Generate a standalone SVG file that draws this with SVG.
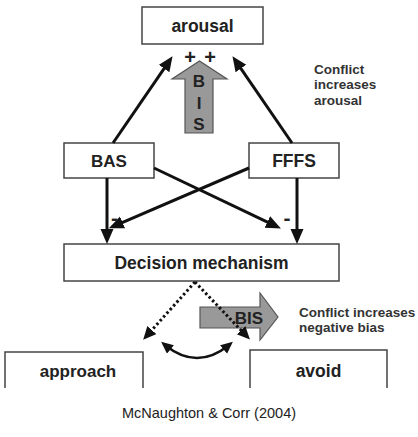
<svg xmlns="http://www.w3.org/2000/svg" width="418" height="437" viewBox="0 0 418 437">
<style>
.box{fill:#fff;stroke:#444;stroke-width:1.5}
.lbl{font-family:"Liberation Sans",Arial,sans-serif;font-weight:bold;fill:#222;text-anchor:middle}
.note{font-family:"Liberation Sans",Arial,sans-serif;font-weight:bold;fill:#333;font-size:13.5px}
.arr{stroke:#111;stroke-width:3;fill:none;marker-end:url(#ah)}
.dot{stroke:#111;stroke-width:3;fill:none;stroke-dasharray:2.5 2.5;marker-end:url(#ah2)}
.big{fill:#999;stroke:#555;stroke-width:1.2}
</style>
<defs>
<marker id="ah" markerUnits="userSpaceOnUse" markerWidth="16" markerHeight="14" refX="10" refY="6.5" orient="auto"><path d="M0,0 L15,6.5 L0,13 z" fill="#111"/></marker>
<marker id="ah2" markerUnits="userSpaceOnUse" markerWidth="16" markerHeight="14" refX="8" refY="6" orient="auto"><path d="M0,0 L13,6 L0,12 z" fill="#111"/></marker>
<marker id="ah3" markerUnits="userSpaceOnUse" markerWidth="16" markerHeight="14" refX="7" refY="5.5" orient="auto-start-reverse"><path d="M0,0 L12,5.5 L0,11 z" fill="#111"/></marker>
</defs>
<rect width="418" height="437" fill="#fff"/>

<g id="arousal"><rect class="box" x="142" y="7" width="121" height="37"/><text class="lbl" x="202.5" y="32" font-size="17.5">arousal</text></g>
<g id="bas"><rect class="box" x="64" y="143" width="90" height="35"/><text class="lbl" x="109" y="167" font-size="17">BAS</text></g>
<g id="fffs"><rect class="box" x="249" y="143" width="90" height="35"/><text class="lbl" x="294" y="167" font-size="17.5">FFFS</text></g>
<g id="decision"><rect class="box" x="64" y="244" width="275" height="37"/><text class="lbl" x="201.5" y="269" font-size="17.5">Decision mechanism</text></g>
<g id="approach"><path class="box" d="M5,388 V352 H143 V388"/><text class="lbl" x="78" y="377" font-size="17">approach</text></g>
<g id="avoid"><path class="box" d="M250,388 V350 H387 V388"/><text class="lbl" x="318.5" y="377" font-size="17.5">avoid</text></g>

<g id="bis-up"><polygon class="big" points="185,133 185,79 172,79 199.5,61 227,79 213,79 213,133"/>
<text class="lbl" x="199" y="87" font-size="17">B</text><text class="lbl" x="199" y="109" font-size="17">I</text><text class="lbl" x="199" y="130" font-size="17">S</text></g>
<g id="bis-right"><polygon class="big" points="200,307 260,307 260,293 278,317 260,340 260,328 200,328"/>
<text class="lbl" x="249" y="324" font-size="17">BIS</text></g>

<g id="connectors">
<line class="arr" x1="113" y1="143" x2="169.7" y2="60.3"/>
<line class="arr" x1="292" y1="143" x2="235.3" y2="60.3"/>
<line class="arr" x1="107" y1="178" x2="107" y2="239"/>
<line class="arr" x1="297" y1="178" x2="297" y2="239"/>
<line class="arr" x1="154" y1="168" x2="276.4" y2="226.3"/>
<line class="arr" x1="249" y1="168" x2="113.4" y2="226.3"/>
<line class="dot" x1="195" y1="282" x2="146.5" y2="336"/>
<line class="dot" x1="195" y1="282" x2="246.5" y2="336"/>
<path d="M165,345 Q197,371 229,345" stroke="#111" stroke-width="2.5" fill="none" marker-start="url(#ah3)" marker-end="url(#ah3)"/>
</g>

<g id="signs">
<text class="lbl" x="190" y="64" font-size="20">+</text>
<text class="lbl" x="210" y="64" font-size="20">+</text>
<text class="lbl" x="114.5" y="225" font-size="21">-</text>
<text class="lbl" x="287" y="225" font-size="21">-</text>
</g>

<g id="notes">
<text class="note" x="314" y="74">Conflict</text>
<text class="note" x="314" y="89">increases</text>
<text class="note" x="314" y="105">arousal</text>
<text class="note" x="299" y="317">Conflict increases</text>
<text class="note" x="299" y="332">negative bias</text>
<text x="209" y="418" font-family="'Liberation Sans',Arial,sans-serif" font-size="14.5" fill="#222" text-anchor="middle">McNaughton &amp; Corr (2004)</text>
</g>
</svg>
